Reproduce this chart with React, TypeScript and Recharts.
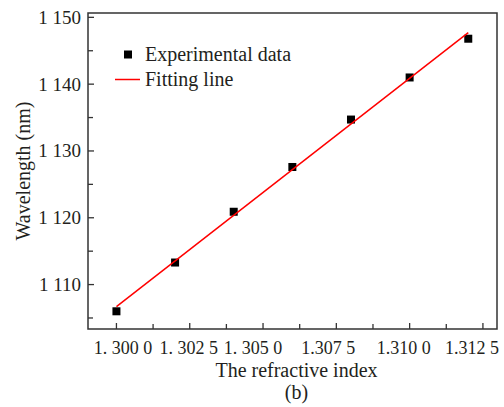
import React from 'react';
import { ComposedChart, Scatter, XAxis, YAxis, ReferenceArea, Label, Legend } from 'recharts';

// ---- data ----
const refractiveIndex = [1.3, 1.302, 1.304, 1.306, 1.308, 1.31, 1.312];
const wavelength = [1106.0, 1113.3, 1120.9, 1127.6, 1134.7, 1141.0, 1146.8];
const fitIndex = [1.3, 1.312];
const fitWavelength = [1106.7, 1147.7];

const xTicks = [1.3, 1.30125, 1.3025, 1.30375, 1.305, 1.30625, 1.3075, 1.30875, 1.31, 1.31125, 1.3125];
const xTickLabels = ['1. 300 0', '', '1. 302 5', '', '1. 305 0', '', '1.307 5', '', '1.310 0', '', '1.312 5'];
const yTicks = [1105, 1110, 1115, 1120, 1125, 1130, 1135, 1140, 1145, 1150];
const yTickLabels = ['', '1 110', '', '1 120', '', '1 130', '', '1 140', '', '1 150'];
const legendLabels = ['Experimental data', 'Fitting line'];

// small horizontal nudges of the x tick label texts (layout only)
const xTickLabelShift = [6.5, 0, -1, 0, -10, 0, -8, 0, -6, 0, -11];

const xDomain = [1.29903, 1.31298];
const yDomain = [1103.35, 1150.65];

const pointData = refractiveIndex.map((x, i) => ({ x, y: wavelength[i] }));
const fitData = fitIndex.map((x, i) => ({ x, y: fitWavelength[i] }));

const FONT = '"Liberation Serif", "Times New Roman", serif';
const INK = '#231f20';
const AXIS = '#333';

const XTick = (props: any) => {
  const { x, y, index } = props;
  const label = xTickLabels[index] || '';
  const major = label !== '';
  return (
    <g>
      <line x1={x} y1={y} x2={x} y2={y - (major ? 6 : 5)} stroke={AXIS} strokeWidth={1.3} />
      {major && (
        <text
          x={x + (xTickLabelShift[index] || 0)}
          y={y + 25}
          textAnchor="middle"
          fontFamily={FONT}
          fontSize={18}
          fill={INK}
        >
          {label}
        </text>
      )}
    </g>
  );
};

const YTick = (props: any) => {
  const { x, y, index } = props;
  const label = yTickLabels[index] || '';
  const major = label !== '';
  return (
    <g>
      <line x1={x} y1={y} x2={x + (major ? 6 : 5)} y2={y} stroke={AXIS} strokeWidth={1.3} />
      {major && (
        <text x={x - 7} y={y + 6.5} textAnchor="end" fontFamily={FONT} fontSize={19} fill={INK}>
          {label}
        </text>
      )}
    </g>
  );
};

const SquareShape = (props: any) => {
  const { cx, cy } = props;
  return <rect x={cx - 4} y={cy - 4} width={8} height={8} fill="#000" />;
};

const NoShape = () => <g />;

const LegendContent = () => (
  <div style={{ fontFamily: FONT, fontSize: 20, color: INK }}>
    {legendLabels.map((t, i) => (
      <div key={t} style={{ display: 'flex', alignItems: 'center', height: 25, whiteSpace: 'nowrap' }}>
        <svg width={32} height={25} style={{ display: 'block' }}>
          {i === 0 ? (
            <rect x={11} y={8.5} width={8} height={8} fill="#000" />
          ) : (
            <line x1={2} y1={12.5} x2={27} y2={12.5} stroke="#ff0000" strokeWidth={1.5} />
          )}
        </svg>
        <span style={{ lineHeight: '25px' }}>{t}</span>
      </div>
    ))}
  </div>
);

export default function App() {
  return (
    <div style={{ position: 'absolute', left: 0, top: 0, width: 504, height: 407, background: '#fff' }}>
      <ComposedChart width={504} height={407} margin={{ top: 13, right: 7, bottom: 0, left: 0 }}>
        <XAxis
          dataKey="x"
          type="number"
          domain={xDomain}
          ticks={xTicks}
          interval={0}
          tickSize={0}
          tickMargin={0}
          axisLine={false}
          tick={<XTick />}
          height={78}
          allowDataOverflow
        >
          <Label
            content={(p: any) => {
              const vb = p.viewBox;
              const cx = vb.x + vb.width / 2 + 4;
              return (
                <g>
                  <text x={cx} y={vb.y + 48} textAnchor="middle" fontFamily={FONT} fontSize={20} fill={INK}>
                    The refractive index
                  </text>
                  <text x={cx} y={vb.y + 70} textAnchor="middle" fontFamily={FONT} fontSize={20} fill={INK}>
                    (b)
                  </text>
                </g>
              );
            }}
          />
        </XAxis>
        <YAxis
          dataKey="y"
          type="number"
          domain={yDomain}
          ticks={yTicks}
          interval={0}
          tickSize={0}
          tickMargin={0}
          axisLine={false}
          tick={<YTick />}
          width={88}
          allowDataOverflow
        >
          <Label
            content={(p: any) => {
              const vb = p.viewBox;
              const cy = vb.y + vb.height / 2;
              const bx = vb.x + 30;
              return (
                <text
                  x={bx}
                  y={cy}
                  transform={`rotate(-90 ${bx} ${cy})`}
                  textAnchor="middle"
                  fontFamily={FONT}
                  fontSize={20}
                  fill={INK}
                >
                  Wavelength (nm)
                </text>
              );
            }}
          />
        </YAxis>
        <ReferenceArea
          x1={xDomain[0]}
          x2={xDomain[1]}
          y1={yDomain[0]}
          y2={yDomain[1]}
          fill="none"
          stroke={AXIS}
          strokeWidth={1.5}
          fillOpacity={0}
        />
        <Scatter data={pointData} shape={<SquareShape />} isAnimationActive={false} />
        <Scatter
          data={fitData}
          shape={<NoShape />}
          line={{ stroke: '#ff0000', strokeWidth: 1.5 }}
          isAnimationActive={false}
        />
        <Legend
          layout="vertical"
          align="center"
          verticalAlign="middle"
          wrapperStyle={{ left: 113, top: 42, width: 220 }}
          content={<LegendContent />}
        />
      </ComposedChart>
    </div>
  );
}
